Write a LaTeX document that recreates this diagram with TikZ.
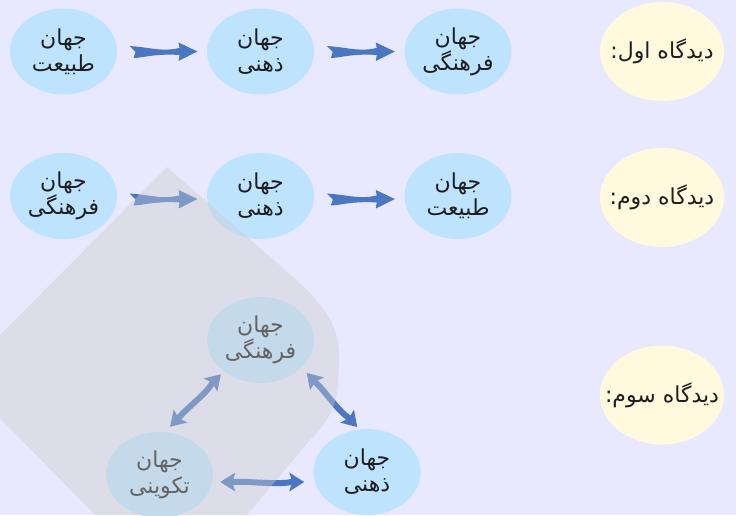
\documentclass[tikz,border=0pt]{standalone}
\usepackage{fontspec}
\usetikzlibrary{shapes.geometric,calc}
\TeXXeTstate=1
\newfontfamily\fa[Script=Arabic]{DejaVu Sans}
\definecolor{bgc}{RGB}{232,233,254}
\definecolor{cblue}{RGB}{190,227,254}
\definecolor{cyel}{RGB}{255,250,222}
\definecolor{abl}{RGB}{74,119,192}
\definecolor{txt}{RGB}{30,30,30}
\definecolor{ovl}{RGB}{205,205,205}
\newcommand{\rtl}[1]{\makebox[0pt]{\beginR #1\endR}}
\begin{document}
\begin{tikzpicture}[x=1pt,y=1pt,
  world/.style={ellipse, fill=cblue, minimum width=107pt, minimum height=86pt, inner sep=0pt, align=center, text=txt, font=\fa\fontsize{22}{26}\selectfont},
  view/.style={ellipse, fill=cyel, minimum width=124pt, minimum height=99pt, inner sep=0pt, text=txt, font=\fa\fontsize{22}{26}\selectfont},
  fatarrow/.pic={\fill[abl] (-34,5.5) .. controls (-19,4.5) and (-12,2.5) .. (-2,2) .. controls (6,1.5) and (11,2.5) .. (16,3.5) -- (15,9) -- (34,0) -- (15,-9.5) -- (16,-3.5) .. controls (8,-3) and (4,-3) .. (-4,-3.5) .. controls (-14,-4) and (-24,-6.5) .. (-30,-6.5) -- (-28,-0.5) -- cycle;},
  dblarrow/.pic={\fill[abl] ({-#1/2},0) -- ({-#1/2+15},9.5) -- ({-#1/2+13},3) .. controls ({-#1/6},4) and ({#1/6},0) .. ({#1/2-13},3) -- ({#1/2-15},9.5) -- ({#1/2},0) -- ({#1/2-15},-9.5) -- ({#1/2-13},-3) .. controls ({#1/6},-6) and ({-#1/6},-2) .. ({-#1/2+13},-3) -- ({-#1/2+15},-9.5) -- cycle;}
]
\fill[bgc] (0,0) rectangle (736,515);
\useasboundingbox (0,0) rectangle (736,515);

% row 1
\node[world] (n1) at (63.5,463.5) {\rtl{جهان}\\\rtl{طبیعت}};
\node[world] (n2) at (260.5,463.5) {\rtl{جهان}\\\rtl{ذهنی}};
\node[world] (n3) at (458,463.5) {\rtl{جهان}\\\rtl{فرهنگی}};
\node[view] (v1) at (662,463.5) {\rtl{دیدگاه اول:}};
% row 2
\node[world] (n4) at (63.5,319) {\rtl{جهان}\\\rtl{فرهنگی}};
\node[world] (n5) at (260.5,319) {\rtl{جهان}\\\rtl{ذهنی}};
\node[world] (n6) at (458,319) {\rtl{جهان}\\\rtl{طبیعت}};
\node[view] (v2) at (662,317.5) {\rtl{دیدگاه دوم:}};
% row 3
\node[world] (f) at (260.5,175) {\rtl{جهان}\\\rtl{فرهنگی}};
\node[world] (t) at (159.5,40) {\rtl{جهان}\\\rtl{تکوینی}};
\node[world] (z) at (367,43) {\rtl{جهان}\\\rtl{ذهنی}};
\node[view] (v3) at (662,120) {\rtl{دیدگاه سوم:}};

% arrows
\path ([xshift=12pt]n1.east) -- ([xshift=-9pt]n2.west) pic[pos=0.5,sloped]{fatarrow};
\path ([xshift=12pt]n2.east) -- ([xshift=-9pt]n3.west) pic[pos=0.5,sloped]{fatarrow};
\path ([xshift=12pt,yshift=-3pt]n4.east) -- ([xshift=-9pt,yshift=-3pt]n5.west) pic[pos=0.5,sloped]{fatarrow};
\path ([xshift=12pt,yshift=-3pt]n5.east) -- ([xshift=-9pt,yshift=-3pt]n6.west) pic[pos=0.5,sloped]{fatarrow};

\coordinate (a1s) at ($(t.north)+(10.5,5)$);
\coordinate (a1e) at ($(f.south)+(-39.5,9)$);
\coordinate (a2s) at ($(f.south)+(46.5,10)$);
\coordinate (a2e) at ($(z.north)+(-10,2)$);
\coordinate (a3s) at ($(t.east)+(7,-7)$);
\coordinate (a3e) at ($(z.west)+(-9,-10)$);
\path (a1s) -- (a1e) pic[pos=0.5,sloped]{dblarrow=73};
\path (a2s) -- (a2e) pic[pos=0.5,sloped]{dblarrow=74};
\path (a3s) -- (a3e) pic[pos=0.5,sloped]{dblarrow=84};

% grey overlay
\fill[ovl, fill opacity=0.4] (167,348) -- (292,239) .. controls (330,205) and (340,185) .. (339,155) -- (338,130) .. controls (336,105) and (325,90) .. (310,75) -- (247,0) -- (95,0) -- (0,97) -- (0,180) -- cycle;
\end{tikzpicture}
\end{document}
